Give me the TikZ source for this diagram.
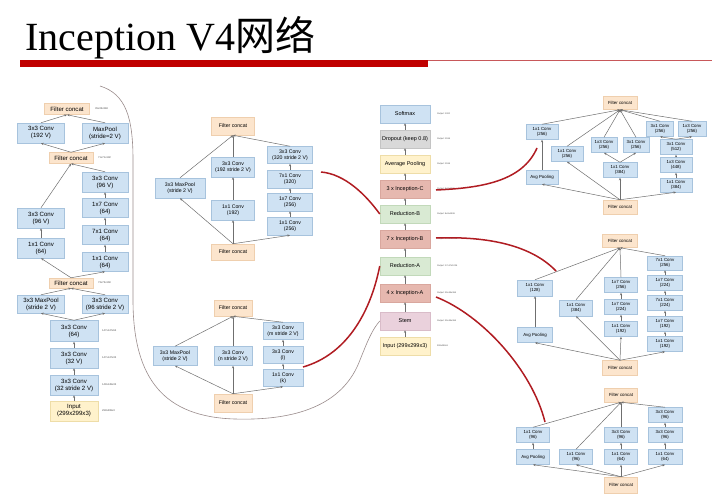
\documentclass[tikz,border=0pt]{standalone}
\usepackage{fontspec}
\setmainfont{Liberation Serif}
\setsansfont{Liberation Sans}
\newfontfamily\cjk{Noto Sans CJK SC}
\usetikzlibrary{arrows.meta}

\definecolor{convfill}{HTML}{CFE2F3}
\definecolor{convline}{HTML}{A7C3DD}
\definecolor{catfill}{HTML}{FCE5CD}
\definecolor{catline}{HTML}{EFCFAE}
\definecolor{infill}{HTML}{FFF2CC}
\definecolor{inborder}{HTML}{EEDDA8}
\definecolor{dropfill}{HTML}{D9D9D9}
\definecolor{dropline}{HTML}{C4C4C4}
\definecolor{incfill}{HTML}{E6B8AF}
\definecolor{incline}{HTML}{D9A79E}
\definecolor{redfill}{HTML}{D9EAD3}
\definecolor{redborder}{HTML}{C2D9BA}
\definecolor{stemfill}{HTML}{EAD1DC}
\definecolor{stemline}{HTML}{D9BCC9}
\definecolor{arrowgray}{HTML}{6F6F6F}
\definecolor{linkred}{HTML}{B01C22}
\definecolor{linkgray}{HTML}{9A8C8C}
\definecolor{titlered}{HTML}{C00000}
\definecolor{thinred}{HTML}{C8585A}

\tikzset{
  blk/.style={draw=convline, fill=convfill, line width=0.5pt, inner sep=0pt, align=center},
  conv/.style={blk},
  cat/.style={blk, draw=catline, fill=catfill},
  inp/.style={blk, draw=inborder, fill=infill},
  sz/.style 2 args={minimum width=#1, minimum height=#2},
  stemtxt/.style={font=\sffamily\fontsize{6.1}{7}\selectfont},
  midtxt/.style={font=\sffamily\fontsize{5.2}{6}\selectfont},
  centxt/.style={font=\sffamily\fontsize{5.5}{6.3}\selectfont},
  rtxt/.style={font=\sffamily\fontsize{4.4}{5}\selectfont},
  dimlbl/.style={anchor=west, inner sep=0pt, text=black!70, font=\sffamily\fontsize{2.6}{3}\selectfont},
  outlbl/.style={anchor=west, inner sep=0pt, text=black!70, font=\sffamily\fontsize{2.2}{2.6}\selectfont},
  flow/.style={draw=arrowgray, line width=0.5pt, -{Stealth[length=2.6pt,width=2.2pt]}},
  redlink/.style={draw=linkred, line width=1.5pt},
  graylink/.style={draw=linkgray, line width=0.6pt},
}

\begin{document}
\begin{tikzpicture}[x=1pt,y=-1pt]
\fill[white] (0,0) rectangle (727,503);
\useasboundingbox (0,0) rectangle (727,503);

% heading
\node[anchor=base west, inner sep=0pt, font=\fontsize{40}{44}\selectfont] (title) at (25,50) {Inception V4{\cjk 网络}};
\fill[titlered] (20,60) rectangle (428,67);
\draw[thinred, line width=1.2pt] (428,60.6) -- (712,60.6);

% ---------------- Stem ----------------
\node[cat, stemtxt, sz={45}{11}] (sfc3) at (67,109) {Filter concat};
\node[conv, stemtxt, sz={47}{20}] (sc192) at (41,133) {3x3 Conv\\(192 V)};
\node[conv, stemtxt, sz={46}{20}] (smpa) at (105,133) {MaxPool\\(stride=2 V)};
\node[cat, stemtxt, sz={44}{11}] (sfc2) at (71,158) {Filter concat};
\node[conv, stemtxt, sz={46}{20}] (sr4) at (105,182) {3x3 Conv\\(96 V)};
\node[conv, stemtxt, sz={46}{19}] (sr3) at (105,208) {1x7 Conv\\(64)};
\node[conv, stemtxt, sz={46}{19}] (sr2) at (105,235) {7x1 Conv\\(64)};
\node[conv, stemtxt, sz={46}{19}] (sr1) at (105,262) {1x1 Conv\\(64)};
\node[conv, stemtxt, sz={47}{20}] (sl2) at (41,218) {3x3 Conv\\(96 V)};
\node[conv, stemtxt, sz={47}{20}] (sl1) at (41,248) {1x1 Conv\\(64)};
\node[cat, stemtxt, sz={44}{10}] (sfc1) at (71,283) {Filter concat};
\node[conv, stemtxt, sz={47}{18}] (smpb) at (41,304) {3x3 MaxPool\\(stride 2 V)};
\node[conv, stemtxt, sz={46}{18}] (sc96) at (105,304) {3x3 Conv\\(96 stride 2 V)};
\node[conv, stemtxt, sz={48}{21}] (sc64) at (74,331) {3x3 Conv\\(64)};
\node[conv, stemtxt, sz={48}{20}] (sc32) at (74,358) {3x3 Conv\\(32 V)};
\node[conv, stemtxt, sz={48}{20}] (sc32s) at (74,385) {3x3 Conv\\(32 stride 2 V)};
\node[inp, stemtxt, sz={48}{20}] (sin) at (74,411) {Input\\(299x299x3)};

\node[dimlbl] (sd1) at (95,109) {35x35x384};
\node[dimlbl] (sd2) at (98,158) {71x71x192};
\node[dimlbl] (sd3) at (98,283) {73x73x160};
\node[dimlbl] (sd4) at (102,331) {147x147x64};
\node[dimlbl] (sd5) at (102,358) {147x147x32};
\node[dimlbl] (sd6) at (102,385) {149x149x32};
\node[dimlbl] (sd7) at (102,411) {299x299x3};

\draw[flow] (sin.north) -- (sc32s.south);
\draw[flow] (sc32s.north) -- (sc32.south);
\draw[flow] (sc32.north) -- (sc64.south);
\draw[flow] (sc64.north) -- (smpb.south);
\draw[flow] (sc64.north) -- (sc96.south);
\draw[flow] (smpb.north) -- (sfc1.south);
\draw[flow] (sc96.north) -- (sfc1.south);
\draw[flow] (sfc1.north) -- (sl1.south);
\draw[flow] (sfc1.north) -- (sr1.south);
\draw[flow] (sl1.north) -- (sl2.south);
\draw[flow] (sr1.north) -- (sr2.south);
\draw[flow] (sr2.north) -- (sr3.south);
\draw[flow] (sr3.north) -- (sr4.south);
\draw[flow] (sl2.north) -- (sfc2.south);
\draw[flow] (sr4.north) -- (sfc2.south);
\draw[flow] (sfc2.north) -- (sc192.south);
\draw[flow] (sfc2.north) -- (smpa.south);
\draw[flow] (sc192.north) -- (sfc3.south);
\draw[flow] (smpa.north) -- (sfc3.south);

% ---------------- Reduction-B ----------------
\node[cat, midtxt, sz={43}{18}] (rbtop) at (233,126) {Filter concat};
\node[conv, midtxt, sz={50}{20}] (rbmp) at (180,188) {3x3 MaxPool\\(stride 2 V)};
\node[conv, midtxt, sz={43}{20}] (rbc2) at (233,167) {3x3 Conv\\(192 stride 2 V)};
\node[conv, midtxt, sz={43}{20}] (rbc1) at (233,210) {1x1 Conv\\(192)};
\node[conv, midtxt, sz={45}{17}] (rbr4) at (290,155) {3x3 Conv\\(320 stride 2 V)};
\node[conv, midtxt, sz={45}{18}] (rbr3) at (290,179) {7x1 Conv\\(320)};
\node[conv, midtxt, sz={45}{18}] (rbr2) at (290,202) {1x7 Conv\\(256)};
\node[conv, midtxt, sz={45}{18}] (rbr1) at (290,226) {1x1 Conv\\(256)};
\node[cat, midtxt, sz={43}{16}] (rbbot) at (233,252) {Filter concat};

\draw[flow] (rbbot.north) -- (rbmp.south);
\draw[flow] (rbbot.north) -- (rbc1.south);
\draw[flow] (rbbot.north) -- (rbr1.south);
\draw[flow] (rbc1.north) -- (rbc2.south);
\draw[flow] (rbr1.north) -- (rbr2.south);
\draw[flow] (rbr2.north) -- (rbr3.south);
\draw[flow] (rbr3.north) -- (rbr4.south);
\draw[flow] (rbmp.north) -- (rbtop.south);
\draw[flow] (rbc2.north) -- (rbtop.south);
\draw[flow] (rbr4.north) -- (rbtop.south);

% ---------------- Reduction-A ----------------
\node[cat, midtxt, sz={38}{16}] (ratop) at (233,308) {Filter concat};
\node[conv, midtxt, sz={44}{19}] (ramp) at (175,356) {3x3 MaxPool\\(stride 2 V)};
\node[conv, midtxt, sz={38}{19}] (ran) at (233,356) {3x3 Conv\\(n stride 2 V)};
\node[conv, midtxt, sz={40}{17}] (ram) at (283,331) {3x3 Conv\\(m stride 2 V)};
\node[conv, midtxt, sz={40}{17}] (ral) at (283,355) {3x3 Conv\\(l)};
\node[conv, midtxt, sz={40}{17}] (rak) at (283,378) {1x1 Conv\\(k)};
\node[cat, midtxt, sz={38}{18}] (rabot) at (233,403) {Filter concat};

\draw[flow] (rabot.north) -- (ramp.south);
\draw[flow] (rabot.north) -- (ran.south);
\draw[flow] (rabot.north) -- (rak.south);
\draw[flow] (rak.north) -- (ral.south);
\draw[flow] (ral.north) -- (ram.south);
\draw[flow] (ramp.north) -- (ratop.south);
\draw[flow] (ran.north) -- (ratop.south);
\draw[flow] (ram.north) -- (ratop.south);

% ---------------- Overall network ----------------
\node[blk, centxt, sz={50}{18}] (msoft) at (405,114) {Softmax};
\node[blk, centxt, sz={50}{18}, draw=dropline, fill=dropfill] (mdrop) at (405,139) {Dropout (keep 0.8)};
\node[inp, centxt, sz={50}{18}] (mpool) at (405,164) {Average Pooling};
\node[blk, centxt, sz={50}{18}, draw=incline, fill=incfill] (mC) at (405,189) {3 x Inception-C};
\node[blk, centxt, sz={50}{18}, draw=redborder, fill=redfill] (mRB) at (405,214) {Reduction-B};
\node[blk, centxt, sz={50}{18}, draw=incline, fill=incfill] (mB) at (405,239) {7 x Inception-B};
\node[blk, centxt, sz={50}{18}, draw=redborder, fill=redfill] (mRA) at (405,266) {Reduction-A};
\node[blk, centxt, sz={50}{18}, draw=incline, fill=incfill] (mA) at (405,293) {4 x Inception-A};
\node[blk, centxt, sz={50}{18}, draw=stemline, fill=stemfill] (mstem) at (405,321) {Stem};
\node[inp, centxt, sz={50}{18}] (min) at (405,346) {Input (299x299x3)};

\node[outlbl] (mo1) at (437,114) {Output: 1000};
\node[outlbl] (mo2) at (437,139) {Output: 1536};
\node[outlbl] (mo3) at (437,164) {Output: 1536};
\node[outlbl] (mo4) at (437,189) {Output: 8x8x1536};
\node[outlbl] (mo5) at (437,214) {Output: 8x8x1536};
\node[outlbl] (mo6) at (437,239) {Output: 17x17x1024};
\node[outlbl] (mo7) at (437,266) {Output: 17x17x1024};
\node[outlbl] (mo8) at (437,293) {Output: 35x35x384};
\node[outlbl] (mo9) at (437,321) {Output: 35x35x384};
\node[outlbl] (mo10) at (437,346) {299x299x3};

\draw[flow] (min.north) -- (mstem.south);
\draw[flow] (mstem.north) -- (mA.south);
\draw[flow] (mA.north) -- (mRA.south);
\draw[flow] (mRA.north) -- (mB.south);
\draw[flow] (mB.north) -- (mRB.south);
\draw[flow] (mRB.north) -- (mC.south);
\draw[flow] (mC.north) -- (mpool.south);
\draw[flow] (mpool.north) -- (mdrop.south);
\draw[flow] (mdrop.north) -- (msoft.south);

% ---------------- Inception-C ----------------
\node[cat, rtxt, sz={34}{13}] (ictop) at (620,103) {Filter concat};
\node[conv, rtxt, sz={32}{15}] (icl1) at (542,132) {1x1 Conv\\(256)};
\node[conv, rtxt, sz={32}{14}] (icap) at (542,177) {Avg Pooling};
\node[conv, rtxt, sz={32}{15}] (icl2) at (567,154) {1x1 Conv\\(256)};
\node[conv, rtxt, sz={26}{15}] (icm13) at (604,145) {1x3 Conv\\(256)};
\node[conv, rtxt, sz={26}{15}] (icm31) at (636,145) {3x1 Conv\\(256)};
\node[conv, rtxt, sz={34}{15}] (icm1) at (620,170) {1x1 Conv\\(384)};
\node[conv, rtxt, sz={27}{15}] (icr31) at (660,129) {3x1 Conv\\(256)};
\node[conv, rtxt, sz={28}{15}] (icr13) at (692,129) {1x3 Conv\\(256)};
\node[conv, rtxt, sz={32}{15}] (icr3) at (676,147) {3x1 Conv\\(512)};
\node[conv, rtxt, sz={32}{15}] (icr2) at (676,165) {1x3 Conv\\(448)};
\node[conv, rtxt, sz={32}{14}] (icr1) at (676,185) {1x1 Conv\\(384)};
\node[cat, rtxt, sz={34}{14}] (icbot) at (620,207) {Filter concat};

\draw[flow] (icbot.north) -- (icap.south);
\draw[flow] (icbot.north) -- (icl2.south);
\draw[flow] (icbot.north) -- (icm1.south);
\draw[flow] (icbot.north) -- (icr1.south);
\draw[flow] (icap.north) -- (icl1.south);
\draw[flow] (icm1.north) -- (icm13.south);
\draw[flow] (icm1.north) -- (icm31.south);
\draw[flow] (icr1.north) -- (icr2.south);
\draw[flow] (icr2.north) -- (icr3.south);
\draw[flow] (icr3.north) -- (icr31.south);
\draw[flow] (icr3.north) -- (icr13.south);
\draw[flow] (icl1.north) -- (ictop.south);
\draw[flow] (icl2.north) -- (ictop.south);
\draw[flow] (icm13.north) -- (ictop.south);
\draw[flow] (icm31.north) -- (ictop.south);
\draw[flow] (icr31.north) -- (ictop.south);
\draw[flow] (icr13.north) -- (ictop.south);

% ---------------- Inception-B ----------------
\node[cat, rtxt, sz={35}{13}] (ibtop) at (620,241) {Filter concat};
\node[conv, rtxt, sz={35}{16}] (ibl1) at (535,288) {1x1 Conv\\(128)};
\node[conv, rtxt, sz={35}{15}] (ibap) at (535,335) {Avg Pooling};
\node[conv, rtxt, sz={33}{16}] (ibl2) at (576,308) {1x1 Conv\\(384)};
\node[conv, rtxt, sz={33}{15}] (ibm3) at (621,285) {1x7 Conv\\(256)};
\node[conv, rtxt, sz={33}{15}] (ibm2) at (621,307) {1x7 Conv\\(224)};
\node[conv, rtxt, sz={33}{15}] (ibm1) at (621,329) {1x1 Conv\\(192)};
\node[conv, rtxt, sz={35}{14}] (ibr5) at (665,263) {7x1 Conv\\(256)};
\node[conv, rtxt, sz={35}{15}] (ibr4) at (665,283) {1x7 Conv\\(224)};
\node[conv, rtxt, sz={35}{15}] (ibr3) at (665,303) {7x1 Conv\\(224)};
\node[conv, rtxt, sz={35}{15}] (ibr2) at (665,324) {1x7 Conv\\(192)};
\node[conv, rtxt, sz={35}{15}] (ibr1) at (665,344) {1x1 Conv\\(192)};
\node[cat, rtxt, sz={35}{15}] (ibbot) at (620,368) {Filter concat};

\draw[flow] (ibbot.north) -- (ibap.south);
\draw[flow] (ibbot.north) -- (ibl2.south);
\draw[flow] (ibbot.north) -- (ibm1.south);
\draw[flow] (ibbot.north) -- (ibr1.south);
\draw[flow] (ibap.north) -- (ibl1.south);
\draw[flow] (ibm1.north) -- (ibm2.south);
\draw[flow] (ibm2.north) -- (ibm3.south);
\draw[flow] (ibr1.north) -- (ibr2.south);
\draw[flow] (ibr2.north) -- (ibr3.south);
\draw[flow] (ibr3.north) -- (ibr4.south);
\draw[flow] (ibr4.north) -- (ibr5.south);
\draw[flow] (ibl1.north) -- (ibtop.south);
\draw[flow] (ibl2.north) -- (ibtop.south);
\draw[flow] (ibm3.north) -- (ibtop.south);
\draw[flow] (ibr5.north) -- (ibtop.south);

% ---------------- Inception-A ----------------
\node[cat, rtxt, sz={33}{14}] (iatop) at (621,395) {Filter concat};
\node[conv, rtxt, sz={33}{15}] (ial1) at (533,435) {1x1 Conv\\(96)};
\node[conv, rtxt, sz={33}{15}] (iaap) at (533,457) {Avg Pooling};
\node[conv, rtxt, sz={33}{15}] (ial2) at (576,457) {1x1 Conv\\(96)};
\node[conv, rtxt, sz={33}{15}] (iam2) at (621,435) {3x3 Conv\\(96)};
\node[conv, rtxt, sz={33}{15}] (iam1) at (621,457) {1x1 Conv\\(64)};
\node[conv, rtxt, sz={34}{15}] (iar3) at (665,415) {3x3 Conv\\(96)};
\node[conv, rtxt, sz={34}{15}] (iar2) at (665,435) {3x3 Conv\\(96)};
\node[conv, rtxt, sz={34}{15}] (iar1) at (665,457) {1x1 Conv\\(64)};
\node[cat, rtxt, sz={33}{16}] (iabot) at (621,485) {Filter concat};

\draw[flow] (iabot.north) -- (iaap.south);
\draw[flow] (iabot.north) -- (ial2.south);
\draw[flow] (iabot.north) -- (iam1.south);
\draw[flow] (iabot.north) -- (iar1.south);
\draw[flow] (iaap.north) -- (ial1.south);
\draw[flow] (iam1.north) -- (iam2.south);
\draw[flow] (iar1.north) -- (iar2.south);
\draw[flow] (iar2.north) -- (iar3.south);
\draw[flow] (ial1.north) -- (iatop.south);
\draw[flow] (ial2.north) -- (iatop.south);
\draw[flow] (iam2.north) -- (iatop.south);
\draw[flow] (iar3.north) -- (iatop.south);

% ---------------- links from modules to the overall network ----------------
\coordinate (stemtail) at (100,86);
\coordinate (rbtail) at (321,172);
\coordinate (ratail) at (303,367);
\coordinate (ctail) at (436,190);
\coordinate (btail) at (436,238);
\coordinate (atail) at (436,297);
\coordinate (chead) at (537,148);
\coordinate (bhead) at (556,271);
\coordinate (ahead) at (545,422);

\draw[graylink] (stemtail) .. controls (126,94) and (133,118) .. (133,160)
  -- (133,300) .. controls (133,380) and (165,417) .. (235,419)
  .. controls (305,421) and (345,400) .. (360,360)
  .. controls (368,340) and (372,330) .. (mstem.west);
\draw[redlink] (rbtail) .. controls (345,174) and (366,195) .. (mRB.west);
\draw[redlink] (ratail) .. controls (345,355) and (370,315) .. (mRA.west);
\draw[redlink] (ctail) .. controls (480,188) and (522,182) .. (chead);
\draw[redlink] (btail) .. controls (490,236) and (532,246) .. (bhead);
\draw[redlink] (atail) .. controls (482,315) and (532,370) .. (ahead);
\end{tikzpicture}
\end{document}
